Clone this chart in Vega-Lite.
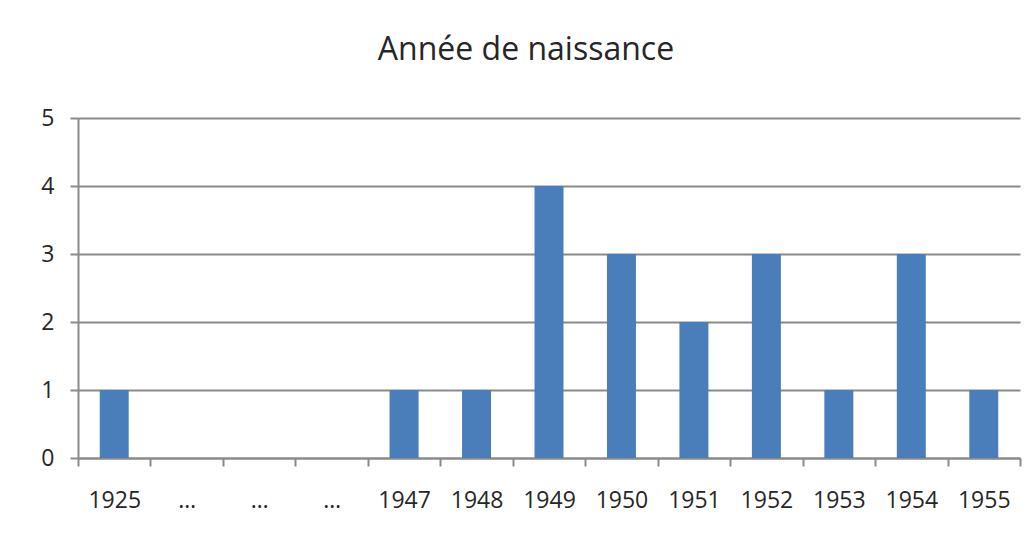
{
  "$schema": "https://vega.github.io/schema/vega-lite/v6.json",
  "autosize": "none",
  "padding": {"left": 78, "top": 118, "right": 13, "bottom": 82},
  "width": 942,
  "height": 340,
  "background": "white",
  "title": {
    "text": "Année de naissance",
    "font": "Open Sans",
    "fontSize": 32,
    "fontWeight": "normal",
    "color": "#262626",
    "anchor": "middle",
    "offset": 40,
    "dx": -23
  },
  "data": {
    "values": [
      {"annee": "1925", "n": 1},
      {"annee": "…", "n": 0},
      {"annee": "…\u200b", "n": 0},
      {"annee": "…\u200b\u200b", "n": 0},
      {"annee": "1947", "n": 1},
      {"annee": "1948", "n": 1},
      {"annee": "1949", "n": 4},
      {"annee": "1950", "n": 3},
      {"annee": "1951", "n": 2},
      {"annee": "1952", "n": 3},
      {"annee": "1953", "n": 1},
      {"annee": "1954", "n": 3},
      {"annee": "1955", "n": 1}
    ]
  },
  "mark": {"type": "bar", "color": "#4a7ebb", "width": {"band": 0.4}},
  "encoding": {
    "x": {
      "field": "annee",
      "type": "nominal",
      "sort": null,
      "scale": {"paddingInner": 0, "paddingOuter": 0},
      "axis": {
        "title": null,
        "labelAngle": 0,
        "tickBand": "extent",
        "grid": false,
        "domainColor": "#8a8a8a",
        "domainWidth": 2,
        "tickColor": "#8a8a8a",
        "tickWidth": 2,
        "tickSize": 8,
        "labelFont": "Open Sans",
        "labelFontSize": 23,
        "labelColor": "#262626",
        "labelPadding": 23
      }
    },
    "y": {
      "field": "n",
      "type": "quantitative",
      "scale": {"domain": [0, 5], "nice": false},
      "axis": {
        "title": null,
        "values": [0, 1, 2, 3, 4, 5],
        "grid": true,
        "gridColor": "#8a8a8a",
        "gridWidth": 2,
        "domainColor": "#8a8a8a",
        "domainWidth": 2,
        "tickColor": "#8a8a8a",
        "tickWidth": 2,
        "tickSize": 8,
        "labelFont": "Open Sans",
        "labelFontSize": 23,
        "labelColor": "#262626",
        "labelPadding": 16
      }
    }
  },
  "config": {"view": {"stroke": null}}
}
